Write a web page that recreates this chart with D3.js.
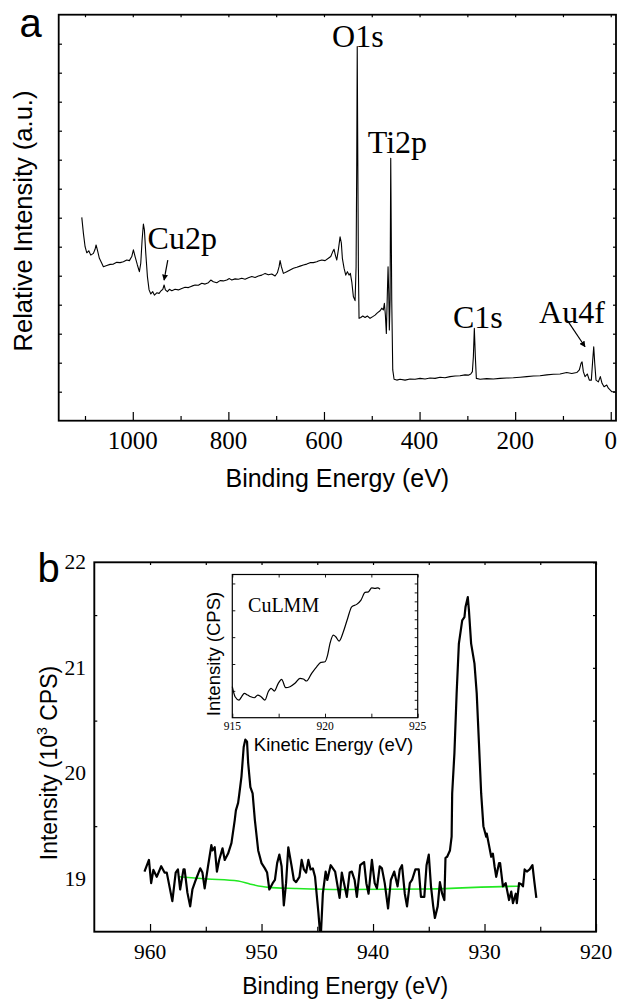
<!DOCTYPE html>
<html><head><meta charset="utf-8">
<script src="https://cdn.jsdelivr.net/npm/d3@7"></script>
<style>body{margin:0;background:#fff} svg{display:block}</style>
</head><body>
<svg id="c" width="619" height="1001"></svg>
<script>
// ---------- DATA ----------
// Panel a: survey spectrum [binding energy eV, relative intensity a.u.]
const surveyPoints = [[1106.7,7.01],[1103.3,6.46],[1099.8,6.0],[1096.2,5.79],[1092.1,5.86],[1087.9,5.71],[1082.4,5.77],[1078.9,5.91],[1076.8,6.06],[1074.1,5.89],[1069.9,5.6],[1064.9,5.43],[1061.5,5.31],[1054.4,5.35],[1047.5,5.39],[1040.6,5.4],[1033.5,5.46],[1026.6,5.45],[1019.7,5.48],[1012.6,5.54],[1007.1,5.52],[1002.1,5.66],[998.7,5.89],[995.2,5.66],[990.4,5.37],[986.2,5.14],[983.3,5.43],[980.5,6.23],[977.8,6.78],[975.7,6.58],[972.8,5.77],[969.4,4.97],[965.9,4.51],[962.3,4.37],[958.2,4.45],[954.8,4.33],[949.8,4.41],[945.0,4.39],[940.8,4.48],[937.2,4.53],[934.5,4.68],[931.8,4.51],[927.6,4.45],[923.4,4.53],[918.4,4.48],[911.5,4.53],[904.6,4.51],[897.5,4.56],[890.6,4.6],[883.7,4.59],[876.6,4.64],[869.7,4.68],[862.8,4.67],[855.6,4.74],[848.7,4.71],[841.8,4.76],[836.8,4.85],[831.4,4.79],[824.3,4.76],[817.4,4.83],[810.5,4.82],[803.3,4.85],[797.9,4.9],[792.9,4.85],[786.0,4.89],[779.1,4.88],[772.0,4.91],[765.1,4.88],[758.2,4.93],[751.0,4.97],[744.1,4.94],[737.2,4.99],[730.1,5.02],[723.2,5.08],[716.3,5.03],[709.2,5.06],[702.3,4.99],[697.5,5.1],[693.9,5.31],[691.8,5.52],[689.1,5.31],[684.9,5.08],[677.8,5.14],[670.9,5.2],[664.0,5.26],[656.9,5.29],[650.0,5.33],[643.1,5.37],[636.0,5.4],[629.1,5.45],[622.2,5.45],[615.1,5.48],[611.7,5.51],[604.6,5.54],[597.7,5.52],[590.8,5.6],[585.8,5.66],[581.6,5.83],[578.9,5.91],[576.2,5.71],[573.2,5.54],[569.9,5.89],[566.3,6.34],[563.6,6.12],[561.5,5.6],[558.0,5.26],[554.4,5.02],[551.0,5.14],[547.5,5.02],[544.8,5.08],[541.8,4.79],[538.5,4.28],[534.9,4.14],[532.8,5.3],[531.4,9.0],[530.4,12.9],[529.2,9.0],[528.0,5.3],[526.6,3.53],[523.0,3.56],[518.8,3.61],[514.0,3.56],[509.2,3.61],[503.6,3.53],[497.9,3.59],[493.1,3.64],[488.3,3.72],[482.6,3.79],[479.1,3.88],[475.7,3.82],[473.6,4.05],[471.5,3.64],[469.5,3.01],[467.4,4.39],[465.9,5.31],[464.4,4.39],[463.2,3.13],[461.7,4.16],[460.3,9.05],[458.2,4.16],[456.1,1.75],[453.3,1.43],[447.7,1.4],[440.8,1.43],[430.3,1.4],[419.9,1.44],[409.4,1.43],[399.0,1.46],[388.5,1.44],[378.0,1.47],[367.6,1.46],[357.1,1.5],[346.7,1.48],[336.2,1.52],[325.7,1.54],[315.3,1.55],[304.8,1.58],[297.9,1.57],[292.9,1.61],[289.5,1.69],[287.4,2.21],[285.4,3.19],[283.3,2.21],[281.2,1.46],[273.4,1.43],[259.4,1.45],[245.6,1.44],[231.6,1.46],[217.6,1.47],[203.8,1.48],[189.7,1.5],[175.7,1.52],[161.9,1.54],[147.9,1.55],[133.9,1.58],[120.1,1.6],[106.1,1.61],[92.1,1.66],[81.6,1.63],[71.1,1.66],[65.7,1.75],[62.1,1.98],[60.0,2.03],[57.3,1.69],[53.8,1.52],[49.0,1.61],[44.8,1.4],[40.6,1.4],[37.7,2.09],[35.6,2.55],[33.5,1.98],[30.8,1.4],[25.9,1.34],[21.8,1.52],[18.2,1.29],[14.0,1.17],[8.4,1.23],[5.0,1.12],[-2.1,1.0],[-9.0,1.0]];
const surveyTicksMajor = [1000, 800, 600, 400, 200, 0];
const surveyTicksMinor = [1100, 900, 700, 500, 300, 100];
const surveyPeaks = [ // label, energy, intensity (label baseline anchor)
  ["O1s", 583, 12.89], ["Ti2p", 508.4, 9.24], ["Cu2p", 969, 5.91], ["C1s", 330, 3.18], ["Au4f", 150, 3.38]];
const surveyArrows = [ // [fromE, fromV, toE, toV]
  [926.8, 5.54, 934.5, 4.85], [88.7, 3.41, 53.8, 2.55]];

// Panel b: Cu2p high-resolution [binding energy eV, intensity 10^3 CPS]
const cuPoints = [[960.5,19.07],[960.1,19.18],[959.9,18.96],[959.7,19.085],[959.4,19.02],[959.0,19.12],[958.7,19.06],[958.5,19.06],[958.0,18.79],[957.7,19.06],[957.5,19.09],[957.3,18.9],[957.0,19.09],[956.9,19.09],[956.65,18.87],[956.4,18.74],[956.2,18.9],[955.9,18.99],[955.5,19.1],[955.3,19.06],[955.1,18.91],[954.8,19.12],[954.5,19.32],[954.4,19.27],[954.2,19.3],[954.0,19.07],[953.8,19.18],[953.5,19.29],[953.3,19.18],[953.0,19.24],[952.7,19.34],[952.4,19.56],[952.3,19.65],[952.1,19.72],[952.0,19.8],[951.8,19.97],[951.6,20.25],[951.45,20.32],[951.3,20.3],[951.2,20.1],[951.0,19.87],[950.8,19.81],[950.6,19.56],[950.3,19.27],[950.0,19.15],[949.7,19.1],[949.5,19.06],[949.3,18.9],[949.0,18.96],[948.8,18.99],[948.6,19.15],[948.4,19.23],[948.2,19.12],[948.0,18.75],[947.8,18.96],[947.6,19.3],[947.3,19.12],[947.1,18.99],[946.9,18.97],[946.6,19.02],[946.4,19.18],[946.2,19.09],[946.0,19.06],[945.8,19.18],[945.6,19.09],[945.4,19.1],[945.2,19.02],[944.9,18.68],[944.7,18.42],[944.5,18.86],[944.25,19.07],[944.1,18.99],[943.8,19.13],[943.4,19.07],[943.0,18.82],[942.8,19.06],[942.6,18.96],[942.35,18.83],[942.1,19.06],[941.9,19.07],[941.65,18.99],[941.45,18.83],[941.15,19.13],[940.8,19.16],[940.6,18.96],[940.4,18.86],[940.1,19.18],[939.85,18.96],[939.65,18.91],[939.4,19.12],[939.2,19.1],[938.95,18.96],[938.65,18.72],[938.4,18.99],[938.1,19.07],[937.8,18.93],[937.6,19.09],[937.4,19.13],[937.15,18.86],[936.95,18.74],[936.7,18.96],[936.5,18.99],[936.2,19.09],[935.9,19.09],[935.7,18.83],[935.4,18.83],[935.2,19.13],[935.0,19.23],[934.8,18.93],[934.6,18.74],[934.45,18.63],[934.2,18.74],[934.0,18.97],[933.8,18.86],[933.6,18.8],[933.5,19.2],[933.35,19.21],[933.1,19.27],[932.95,19.4],[932.9,19.81],[932.7,20.19],[932.5,20.76],[932.3,21.23],[932.0,21.45],[931.8,21.48],[931.7,21.58],[931.5,21.67],[931.4,21.55],[931.2,21.23],[930.9,21.04],[930.7,20.76],[930.5,20.29],[930.3,19.81],[930.1,19.5],[929.85,19.4],[929.8,19.43],[929.6,19.32],[929.4,19.21],[929.25,19.24],[929.1,19.12],[928.95,19.02],[928.7,19.15],[928.6,19.15],[928.35,18.93],[928.1,18.96],[927.8,18.8],[927.6,18.88],[927.45,18.77],[927.2,18.86],[927.1,18.77],[926.9,18.96],[926.7,18.95],[926.55,18.93],[926.4,19.09],[926.2,19.07],[925.95,19.09],[925.7,19.13],[925.55,18.99],[925.35,18.82]];
const cuBackground = [[957.4,19.02],[954.85,19.0],[952.1,18.98],[951.0,18.95],[949.4,18.92],[947.0,18.91],[942.8,18.9],[935.0,18.905],[927.2,18.93],[926.8,18.93]];
const cuXTicksMajor = [960, 950, 940, 930, 920];
const cuXTicksMinor = [955, 945, 935, 925];
const cuYTicks = [19, 20, 21, 22];
const cuYTicksMinor = [19.5, 20.5, 21.5];

// Inset: Cu LMM Auger [kinetic energy eV, intensity a.u.]
const augerPoints = [[915.0,3.46],[915.15,2.34],[915.36,1.97],[915.5,2.34],[915.65,2.72],[915.83,2.53],[916.0,2.34],[916.19,2.23],[916.37,2.53],[916.55,2.34],[916.76,1.97],[916.94,2.9],[917.09,3.28],[917.27,2.98],[917.48,3.84],[917.66,4.28],[917.88,3.35],[918.11,3.46],[918.38,3.84],[918.65,4.4],[918.83,4.32],[919.01,4.1],[919.28,4.96],[919.55,5.69],[919.78,6.18],[920.0,6.25],[920.14,7.0],[920.27,8.3],[920.45,9.23],[920.58,9.04],[920.76,8.56],[920.99,9.6],[921.22,11.09],[921.44,12.39],[921.71,12.66],[921.94,13.14],[922.16,14.0],[922.34,14.06],[922.52,14.51],[922.7,14.44],[922.84,14.51],[922.97,14.36]];
const augerXTicks = [915, 920, 925];
const augerXTicksAll = [915, 917.5, 920, 922.5, 925];

// ---------- DRAW ----------
const svg = d3.select("#c");
const SERIF = "'Liberation Serif','Times New Roman',serif";
const SANS = "'Liberation Sans',Arial,Helvetica,sans-serif";

function tickLines(g, axisFn, scale, values, size, transform) {
  const gen = axisFn(scale).tickValues(values).tickSize(-size).tickFormat("");
  const gg = g.append("g").attr("transform", transform).call(gen);
  gg.select(".domain").remove();
  gg.selectAll("text").remove();
  gg.selectAll("line").attr("stroke", "#000").attr("stroke-width", 1.2);
  return gg;
}
function frame(g, xs, ys, sw) {
  const [x0, x1] = xs.range(); const [y0, y1] = ys.range();
  g.append("rect").attr("x", Math.min(x0, x1)).attr("y", Math.min(y0, y1))
    .attr("width", Math.abs(x1 - x0)).attr("height", Math.abs(y1 - y0))
    .attr("fill", "none").attr("stroke", "#000").attr("stroke-width", sw);
}

// ===== Panel a =====
const ax = d3.scaleLinear().domain([1155, -11]).range([58.7, 616]);
const ay = d3.scaleLinear().domain([0, 14]).range([420.7, 14.7]);
const ga = svg.append("g");
const aL = ax.range()[0], aR = ax.range()[1], aB = ay.range()[0], aT = ay.range()[1];

tickLines(ga, d3.axisBottom, ax, surveyTicksMajor, 8.7, `translate(0,${aB})`);
tickLines(ga, d3.axisBottom, ax, surveyTicksMinor, 4.7, `translate(0,${aB})`);
tickLines(ga, d3.axisTop, ax, surveyTicksMajor.concat(surveyTicksMinor), 2.5, `translate(0,${aT})`);
tickLines(ga, d3.axisLeft, ay, d3.range(1, 14), 3.3, `translate(${aL},0)`);
tickLines(ga, d3.axisRight, ay, d3.range(1, 14), 3, `translate(${aR},0)`);

ga.append("path").datum(surveyPoints)
  .attr("d", d3.line().x(d => ax(d[0])).y(d => ay(d[1])))
  .attr("fill", "none").attr("stroke", "#000").attr("stroke-width", 1.1).attr("stroke-linejoin", "round");

frame(ga, ax, ay, 1.8);

ga.selectAll("text.xt").data(surveyTicksMajor).join("text").attr("class", "xt")
  .attr("x", d => ax(d)).attr("y", aB + 28.5).attr("text-anchor", "middle")
  .style("font-family", SERIF).attr("font-size", 25).text(d => d);

ga.selectAll("text.pk").data(surveyPeaks).join("text").attr("class", "pk")
  .attr("x", d => ax(d[1])).attr("y", d => ay(d[2]))
  .style("font-family", SERIF).attr("font-size", 32).text(d => d[0]);

svg.append("defs").append("marker").attr("id", "ah").attr("viewBox", "0 0 10 10")
  .attr("refX", 9).attr("refY", 5).attr("markerWidth", 6).attr("markerHeight", 6)
  .attr("orient", "auto-start-reverse").attr("markerUnits", "userSpaceOnUse")
  .append("path").attr("d", "M0,0 L10,5 L0,10 z").attr("fill", "#000");
ga.selectAll("line.arr").data(surveyArrows).join("line").attr("class", "arr")
  .attr("x1", d => ax(d[0])).attr("y1", d => ay(d[1]))
  .attr("x2", d => ax(d[2])).attr("y2", d => ay(d[3]))
  .attr("stroke", "#000").attr("stroke-width", 1.2).attr("marker-end", "url(#ah)");

ga.append("text").attr("x", (aL + aR) / 2).attr("y", 487).attr("text-anchor", "middle")
  .style("font-family", SANS).attr("font-size", 25).text("Binding Energy (eV)");
ga.append("text").attr("transform", `translate(31.5,221) rotate(-90)`).attr("text-anchor", "middle")
  .style("font-family", SANS).attr("font-size", 25.5).text("Relative Intensity (a.u.)");
ga.append("text").attr("x", 19.5).attr("y", 37).style("font-family", SANS).attr("font-size", 40).text("a");

// ===== Panel b =====
const bx = d3.scaleLinear().domain([965, 920]).range([94.3, 596]);
const by = d3.scaleLinear().domain([18.5, 22]).range([931.7, 562.3]);
const gb = svg.append("g");
const bL = bx.range()[0], bR = bx.range()[1], bB = by.range()[0], bT = by.range()[1];

svg.select("defs").append("clipPath").attr("id", "clipb").append("rect")
  .attr("x", bL).attr("y", bT).attr("width", bR - bL).attr("height", bB - bT);

tickLines(gb, d3.axisBottom, bx, cuXTicksMajor, 7.7, `translate(0,${bB})`);
tickLines(gb, d3.axisBottom, bx, cuXTicksMinor, 5, `translate(0,${bB})`);
tickLines(gb, d3.axisTop, bx, cuXTicksMajor.concat(cuXTicksMinor), 2.7, `translate(0,${bT})`);
tickLines(gb, d3.axisLeft, by, cuYTicksMinor, 3, `translate(${bL},0)`);
tickLines(gb, d3.axisRight, by, cuYTicks.concat(cuYTicksMinor), 3, `translate(${bR},0)`);

gb.append("path").datum(cuBackground).attr("clip-path", "url(#clipb)")
  .attr("d", d3.line().x(d => bx(d[0])).y(d => by(d[1])).curve(d3.curveMonotoneX))
  .attr("fill", "none").attr("stroke", "#22e822").attr("stroke-width", 1.6);
gb.append("path").datum(cuPoints).attr("clip-path", "url(#clipb)")
  .attr("d", d3.line().x(d => bx(d[0])).y(d => by(d[1])))
  .attr("fill", "none").attr("stroke", "#000").attr("stroke-width", 2.2).attr("stroke-linejoin", "round");

frame(gb, bx, by, 1.9);

gb.selectAll("text.xt").data(cuXTicksMajor).join("text").attr("class", "xt")
  .attr("x", d => bx(d)).attr("y", bB + 27.3).attr("text-anchor", "middle")
  .style("font-family", SERIF).attr("font-size", 21.5).text(d => d);
gb.selectAll("text.yt").data(cuYTicks).join("text").attr("class", "yt")
  .attr("x", bL - 8.3).attr("y", d => by(d)).attr("dy", "0.33em").attr("text-anchor", "end")
  .style("font-family", SERIF).attr("font-size", 21.5).text(d => d);

gb.append("text").attr("x", (bL + bR) / 2).attr("y", 994).attr("text-anchor", "middle")
  .style("font-family", SANS).attr("font-size", 23).text("Binding Energy (eV)");
const yl = gb.append("text").attr("transform", `translate(56.5,763) rotate(-90)`).attr("text-anchor", "middle")
  .style("font-family", SANS).attr("font-size", 23);
yl.append("tspan").text("Intensity (10");
yl.append("tspan").attr("font-size", 14).attr("dy", -10).text("3");
yl.append("tspan").attr("dy", 10).text(" CPS)");
gb.append("text").attr("x", 37.5).attr("y", 581.7).style("font-family", SANS).attr("font-size", 40).text("b");

// ===== Inset =====
const ix = d3.scaleLinear().domain([915, 925]).range([232.3, 417.7]);
const iy = d3.scaleLinear().domain([0, 16]).range([717.7, 574.5]);
const gi = svg.append("g");
const iL = ix.range()[0], iR = ix.range()[1], iB = iy.range()[0], iT = iy.range()[1];

gi.append("rect").attr("x", iL).attr("y", iT).attr("width", iR - iL).attr("height", iB - iT).attr("fill", "#fff");
tickLines(gi, d3.axisBottom, ix, augerXTicksAll, 4, `translate(0,${iB})`);
tickLines(gi, d3.axisTop, ix, augerXTicksAll, 3, `translate(0,${iT})`);
tickLines(gi, d3.axisLeft, iy, d3.range(3, 16, 3), 3, `translate(${iL},0)`);
tickLines(gi, d3.axisRight, iy, d3.range(1, 16), 3, `translate(${iR},0)`);
gi.selectAll("line").attr("stroke-width", 0.9);

gi.append("path").datum(augerPoints)
  .attr("d", d3.line().x(d => ix(d[0])).y(d => iy(d[1])).curve(d3.curveMonotoneX))
  .attr("fill", "none").attr("stroke", "#000").attr("stroke-width", 1.2);

frame(gi, ix, iy, 1.2);

gi.selectAll("text.xt").data(augerXTicks).join("text").attr("class", "xt")
  .attr("x", d => ix(d)).attr("y", iB + 12.5).attr("text-anchor", "middle")
  .style("font-family", SERIF).attr("font-size", 11.5).text(d => d);
gi.append("text").attr("x", 333.5).attr("y", 751).attr("text-anchor", "middle")
  .style("font-family", SANS).attr("font-size", 18.5).text("Kinetic Energy (eV)");
gi.append("text").attr("transform", `translate(220,654) rotate(-90)`).attr("text-anchor", "middle")
  .style("font-family", SANS).attr("font-size", 18.5).text("Intensity (CPS)");
gi.append("text").attr("x", ix(915.85)).attr("y", iy(11.8)).style("font-family", SERIF).attr("font-size", 20).text("CuLMM");
</script>
</body></html>
